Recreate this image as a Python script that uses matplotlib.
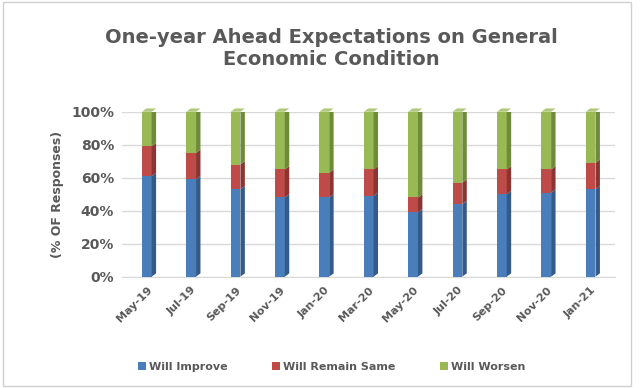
import numpy as np
import matplotlib.pyplot as plt
from matplotlib.patches import Rectangle, Polygon

# data (% of responses)
months = ["May-19", "Jul-19", "Sep-19", "Nov-19", "Jan-20", "Mar-20",
          "May-20", "Jul-20", "Sep-20", "Nov-20", "Jan-21"]
improve = [61, 59, 53, 48, 48, 49, 39, 44, 50, 51, 53]
same = [18, 16, 15, 17, 15, 16, 9, 13, 15, 14, 16]
worsen = [21, 25, 32, 35, 37, 35, 52, 43, 35, 35, 31]

labels = ["Will Improve", "Will Remain Same", "Will Worsen"]
front = ["#4A7EBB", "#BE4B48", "#98B954"]
side = ["#345A87", "#8A3532", "#6E8B3A"]
top = ["#6E97CB", "#CD6F6C", "#AFC97A"]
gray = "#595959"

fig = plt.figure(figsize=(6.44, 3.88), dpi=100)
fig.patches.append(Rectangle((0.005, 0.005), 0.975, 0.99, transform=fig.transFigure,
                             fill=False, edgecolor="#d0d0d0", lw=1))
ax = fig.add_axes([0.19, 0.287, 0.765, 0.425])

x = np.arange(len(months))
w = 0.22
dx, dy = 0.1, 2.0   # depth offset of the fake 3d faces

bottom = np.zeros(len(months))
series = [improve, same, worsen]
for k, vals in enumerate(series):
    vals = np.array(vals, dtype=float)
    ax.bar(x, vals, w, bottom=bottom, color=front[k], label=labels[k], zorder=3)
    for xi, b, v in zip(x, bottom, vals):
        r = xi + w / 2
        ax.add_patch(Polygon([(r, b), (r + dx, b + dy), (r + dx, b + v + dy), (r, b + v)],
                             closed=True, facecolor=side[k], edgecolor="none", zorder=3))
        if k == len(series) - 1:
            l = xi - w / 2
            t = b + v
            ax.add_patch(Polygon([(l, t), (l + dx, t + dy), (r + dx, t + dy), (r, t)],
                                 closed=True, facecolor=top[k], edgecolor="none",
                                 zorder=3, clip_on=False))
    bottom += vals

ax.set_xlim(-0.55, len(months) - 0.45)
ax.set_ylim(0, 100)
ax.set_yticks(np.arange(0, 101, 20))
ax.set_yticklabels([f"{v}%" for v in range(0, 101, 20)], fontsize=10,
                   fontweight="bold", color=gray)
ax.set_xticks(x)
ax.set_xticklabels(months, rotation=45, ha="right", rotation_mode="anchor",
                   fontsize=8, fontweight="bold", color=gray)
ax.tick_params(length=0, pad=6)
ax.grid(axis="y", color="#d9d9d9", lw=1, zorder=0)
for s in ["top", "right", "left"]:
    ax.spines[s].set_visible(False)
ax.spines["bottom"].set_color("#d9d9d9")
ax.set_ylabel("(% OF Responses)", fontsize=9, fontweight="bold", color=gray, labelpad=5)

fig.text(0.515, 0.875, "One-year Ahead Expectations on General\nEconomic Condition",
         ha="center", va="center", fontsize=14, fontweight="bold", color=gray,
         linespacing=1.2)

leg = fig.legend(loc="center", bbox_to_anchor=(0.515, 0.055), ncol=3, frameon=False,
                 fontsize=8, handlelength=0.7, handleheight=0.7, columnspacing=4,
                 handletextpad=0.3)
for t in leg.get_texts():
    t.set_fontweight("bold")
    t.set_color(gray)

fig.savefig("out.png", dpi=100)
